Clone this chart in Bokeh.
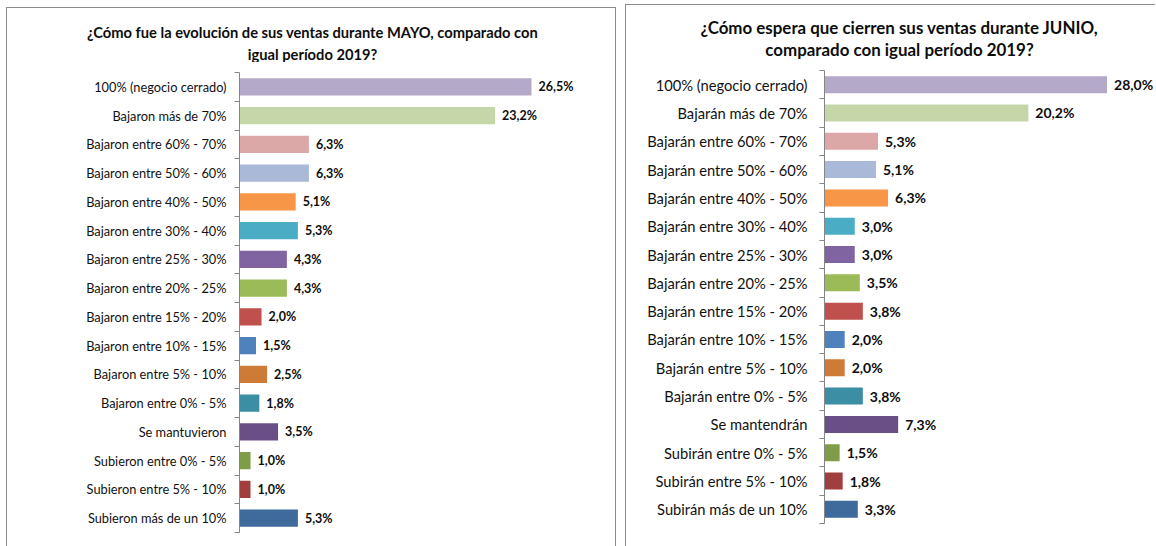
from bokeh.plotting import figure
from bokeh.layouts import row, column
from bokeh.models import ColumnDataSource, Range1d, FixedTicker
from bokeh.core.properties import value
from bokeh.embed import file_html
from bokeh.resources import INLINE

# ---------------- data ----------------
may_categories = [
    "100% (negocio cerrado)", "Bajaron más de 70%", "Bajaron entre 60% - 70%",
    "Bajaron entre 50% - 60%", "Bajaron entre 40% - 50%", "Bajaron entre 30% - 40%",
    "Bajaron entre 25% - 30%", "Bajaron entre 20% - 25%", "Bajaron entre 15% - 20%",
    "Bajaron entre 10% - 15%", "Bajaron entre 5% - 10%", "Bajaron entre 0% - 5%",
    "Se mantuvieron", "Subieron entre 0% - 5%", "Subieron entre 5% - 10%",
    "Subieron más de un 10%",
]
may_values = [26.5, 23.2, 6.3, 6.3, 5.1, 5.3, 4.3, 4.3, 2.0, 1.5, 2.5, 1.8, 3.5, 1.0, 1.0, 5.3]

june_categories = [
    "100% (negocio cerrado)", "Bajarán más de 70%", "Bajarán entre 60% - 70%",
    "Bajarán entre 50% - 60%", "Bajarán entre 40% - 50%", "Bajarán entre 30% - 40%",
    "Bajarán entre 25% - 30%", "Bajarán entre 20% - 25%", "Bajarán entre 15% - 20%",
    "Bajarán entre 10% - 15%", "Bajarán entre 5% - 10%", "Bajarán entre 0% - 5%",
    "Se mantendrán", "Subirán entre 0% - 5%", "Subirán entre 5% - 10%",
    "Subirán más de un 10%",
]
june_values = [28.0, 20.2, 5.3, 5.1, 6.3, 3.0, 3.0, 3.5, 3.8, 2.0, 2.0, 3.8, 7.3, 1.5, 1.8, 3.3]

bar_colors = [
    "#b5a9c9", "#c5d7a9", "#dba8a7", "#a9b9d7", "#f79646", "#4bacc6",
    "#8064a2", "#9bbb59", "#c0504d", "#4f81bd", "#cf7b38", "#3b8ea4",
    "#6a4f86", "#7f9c48", "#a03f3d", "#3e6a9c",
]

may_title = ["¿Cómo fue la evolución de sus ventas durante MAYO, comparado con",
             "igual período 2019?"]
june_title = ["¿Cómo espera que cierren sus ventas durante JUNIO,",
              "comparado con igual período 2019?"]

FONT = "Lato"
BORDER = "1px solid #8c8c8c"


def title_fig(lines, width, height, cx, ys, size, borders):
    t = figure(width=width, height=height, output_backend="svg", toolbar_location=None,
               x_range=Range1d(0, width), y_range=Range1d(height, 0),
               min_border=0, styles=borders)
    if "frame_align" in t.properties():
        t.frame_align = False
    t.axis.visible = False
    t.grid.visible = False
    t.outline_line_color = None
    src = ColumnDataSource(dict(x=[cx] * len(lines), y=ys, s=lines))
    t.text(x="x", y="y", text="s", text_align="center", text_baseline="middle",
           text_font=value(FONT), text_font_style="bold", text_font_size=size,
           text_color="#0d0d0d", source=src)
    return t


def chart_fig(cats, vals, width, height, frame_left, frame_top, frame_bottom,
              frame_right, x_end, label_size, value_size, standoff, borders):
    n = len(cats)
    src = ColumnDataSource(dict(
        y=list(range(n)),
        v=vals,
        c=bar_colors[:n],
        lab=[f"{v:.1f}".replace(".", ",") + "%" for v in vals],
    ))
    p = figure(width=width, height=height, output_backend="svg", toolbar_location=None,
               x_range=Range1d(0, x_end), y_range=Range1d(n - 0.5, -0.5),
               min_border_left=frame_left, min_border_top=frame_top,
               min_border_bottom=frame_bottom, min_border_right=frame_right,
               styles=borders)
    if "frame_align" in p.properties():
        p.frame_align = False
    p.outline_line_color = None
    p.grid.visible = False
    p.xaxis.visible = False

    p.hbar(y="y", right="v", left=0, height=0.6, fill_color="c", line_color=None, source=src)
    p.text(x="v", y="y", text="lab", x_offset=7, text_baseline="middle", text_align="left",
           text_font=value(FONT), text_font_style="bold", text_font_size=value_size,
           text_color="#0d0d0d", source=src)

    ax = p.yaxis[0]
    ax.ticker = FixedTicker(ticks=list(range(n)), minor_ticks=[i - 0.5 for i in range(n + 1)])
    ax.major_label_overrides = {i: c for i, c in enumerate(cats)}
    ax.major_tick_out = 0
    ax.major_tick_in = 0
    ax.major_tick_line_color = None
    ax.minor_tick_out = 5
    ax.minor_tick_in = 0
    ax.minor_tick_line_color = "#868686"
    ax.axis_line_color = "#868686"
    ax.major_label_standoff = standoff
    ax.major_label_text_font = FONT
    ax.major_label_text_font_size = label_size
    ax.major_label_text_color = "#111111"
    return p


t1 = title_fig(may_title, 610, 55, 305, [23, 45], "14.7px",
               {"border-left": BORDER, "border-top": BORDER, "border-right": BORDER})
c1 = chart_fig(may_categories, may_values, 610, 484, frame_left=232, frame_top=10,
               frame_bottom=14, frame_right=10, x_end=33.4,
               label_size="12.8px", value_size="12.5px", standoff=8,
               borders={"border-left": BORDER, "border-right": BORDER})

t2 = title_fig(june_title, 530, 55, 273, [22, 44], "16.9px",
               {"border-left": BORDER, "border-top": BORDER})
c2 = chart_fig(june_categories, june_values, 530, 487, frame_left=198, frame_top=11,
               frame_bottom=23, frame_right=0, x_end=32.9,
               label_size="14.7px", value_size="14px", standoff=12,
               borders={"border-left": BORDER})

col1 = column(t1, c1, spacing=0)
col1.margin = (7, 0, 0, 6)
col2 = column(t2, c2, spacing=0)
col2.margin = (4, 0, 0, 9)
layout = row(col1, col2, spacing=0)

open("out.html", "w").write(file_html(layout, INLINE))
